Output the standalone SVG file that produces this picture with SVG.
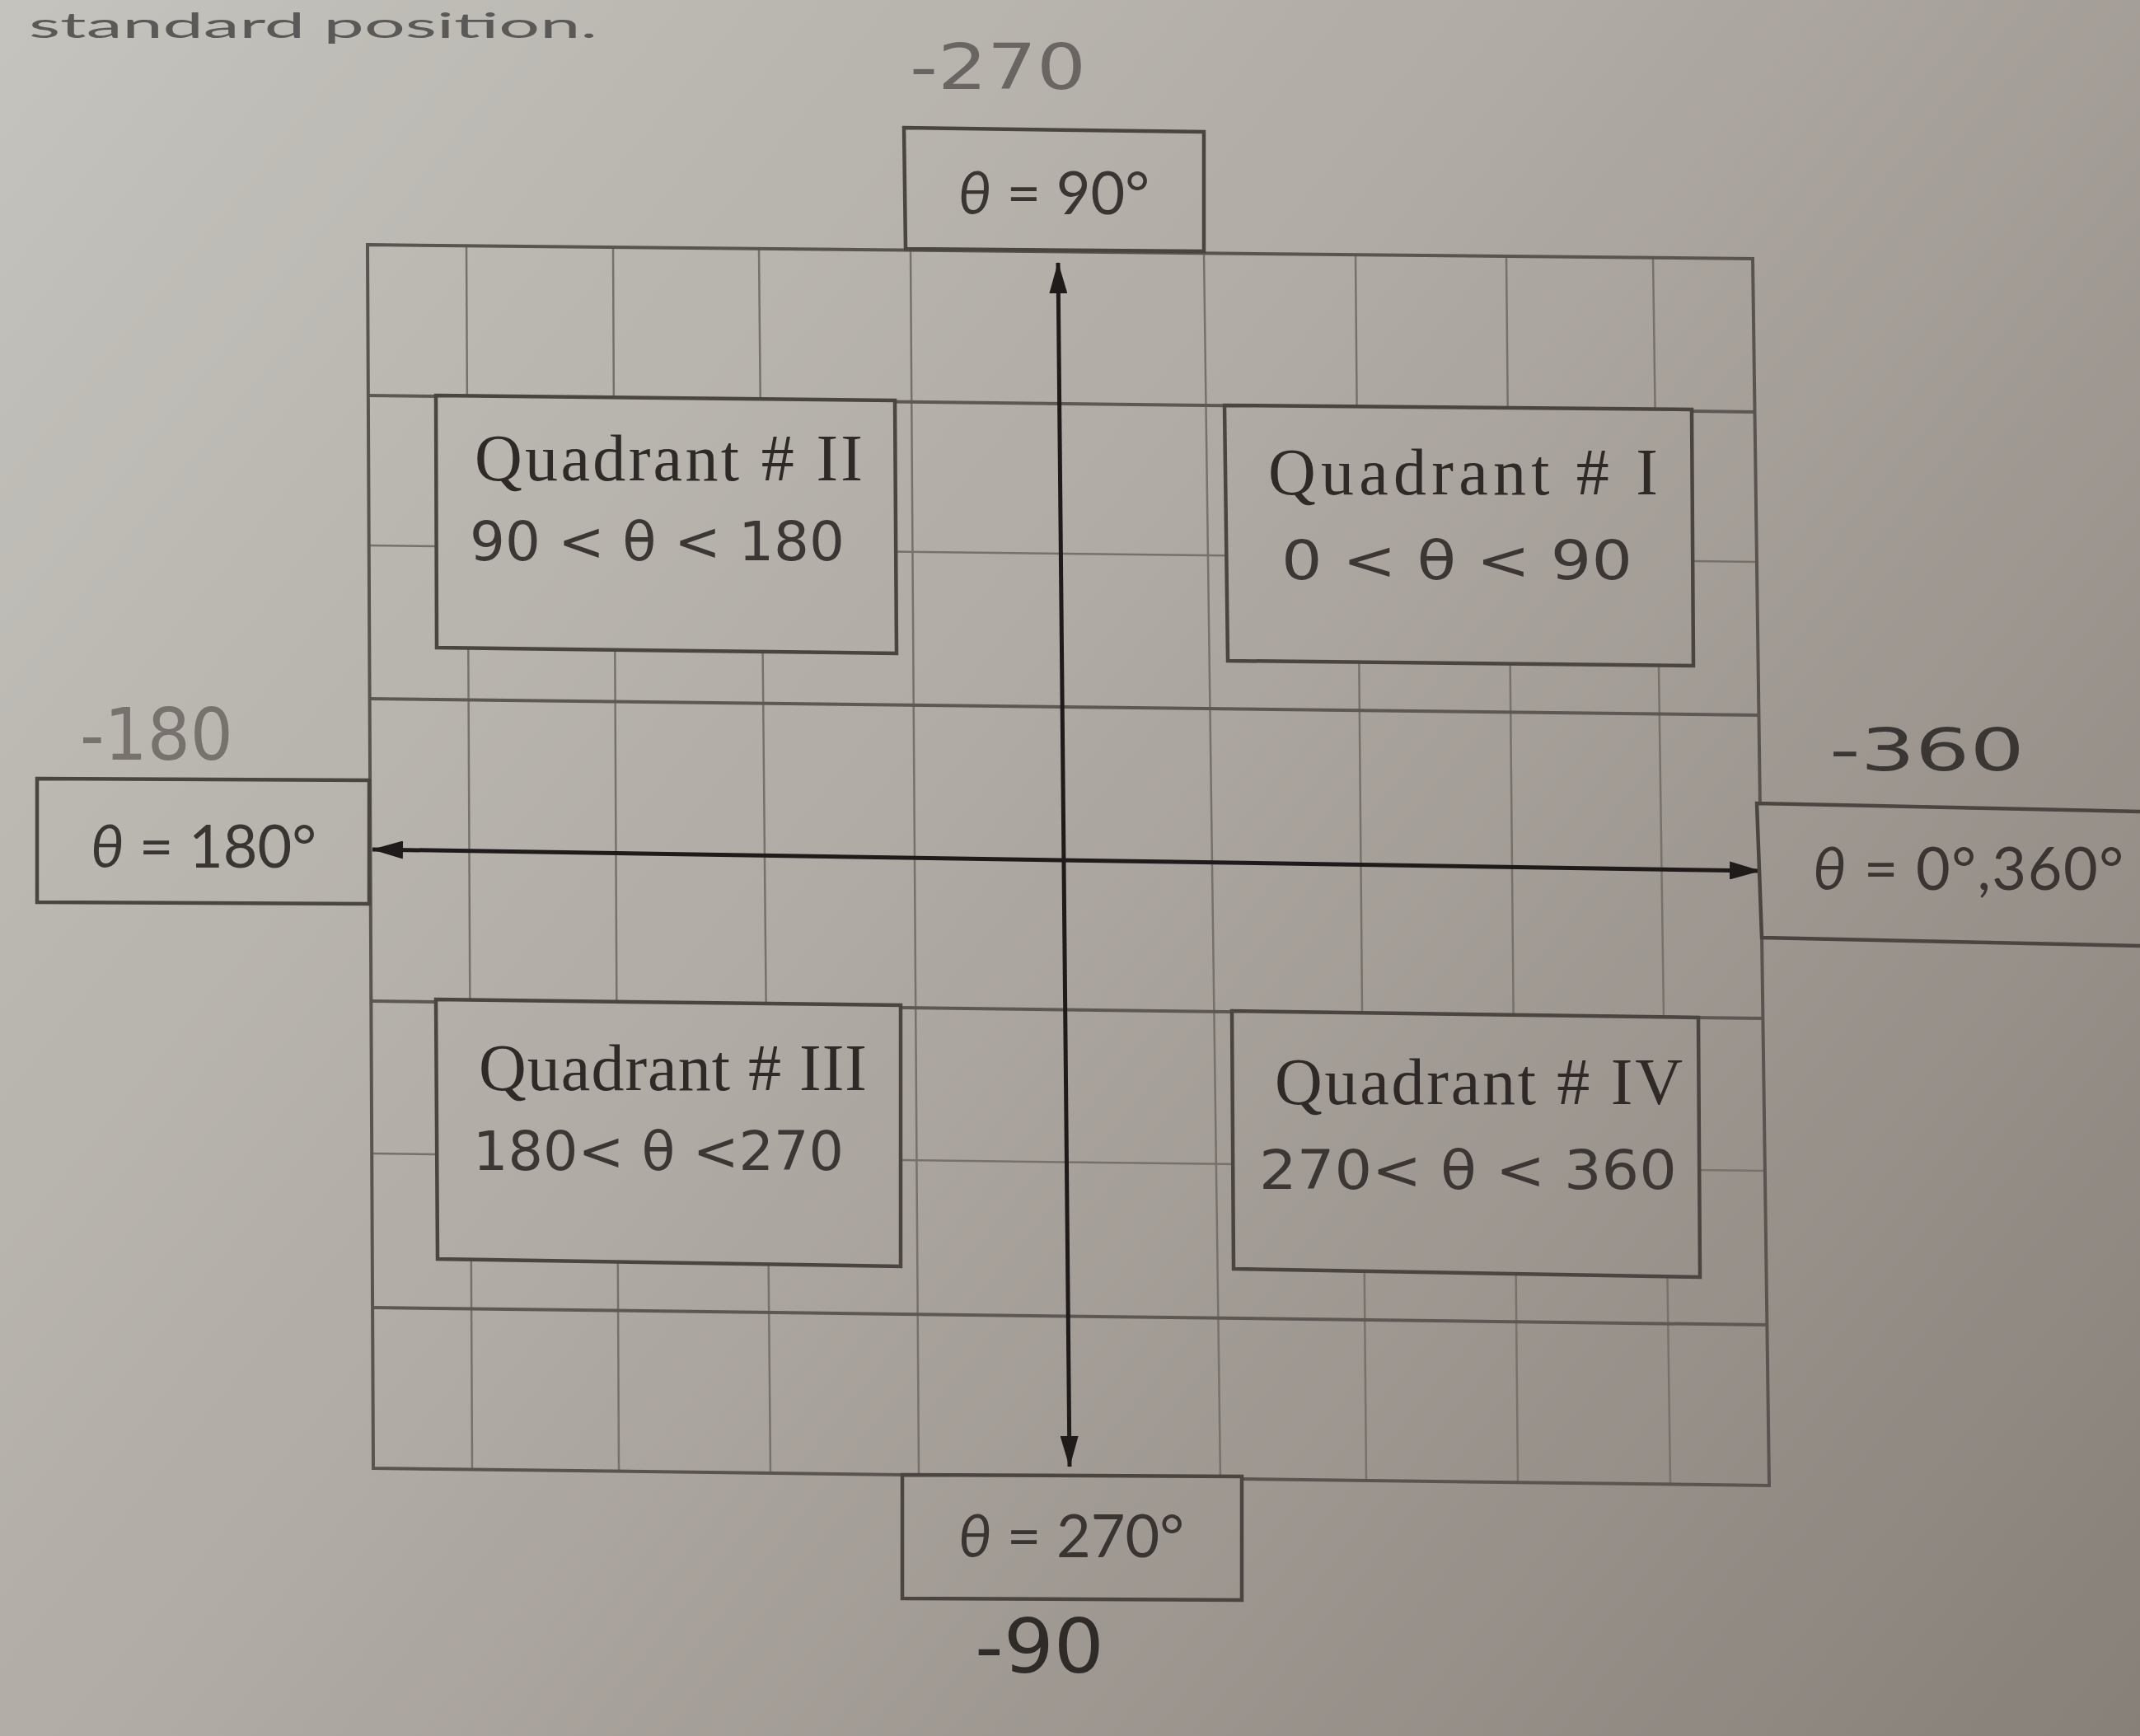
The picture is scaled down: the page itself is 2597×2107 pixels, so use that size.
<svg xmlns="http://www.w3.org/2000/svg" width="2597" height="2107" viewBox="0 0 2597 2107">
<defs>
<linearGradient id="paper" gradientUnits="userSpaceOnUse" x1="0" y1="0" x2="2597" y2="2107">
<stop offset="0" stop-color="#c4c3bd"/>
<stop offset="0.45" stop-color="#b0aaa4"/>
<stop offset="1" stop-color="#878079"/>
</linearGradient>
<marker id="arr" viewBox="0 0 38 22" refX="37" refY="11" markerWidth="38" markerHeight="22" markerUnits="userSpaceOnUse" orient="auto-start-reverse">
<path d="M0,0 L38,11 L0,22 z" fill="#1f1b1a"/>
</marker>
<style>
.box{fill:url(#paper);stroke:#4b4541;stroke-width:4.5;stroke-linejoin:miter}
.gthin{stroke:#77716c;stroke-width:2.5;fill:none}
.gmid{stroke:#5e5854;stroke-width:4;fill:none}
.gborder{stroke:#5a5450;stroke-width:4;fill:none}
.axis{stroke:#1f1b1a;stroke-width:5;fill:none}
.lbl{font-family:Lato,"Liberation Sans",sans-serif;font-size:72px;fill:#3a3532}
.quad{font-family:"Liberation Serif",serif;font-size:80px;fill:#2f2a28}
.hand{font-family:"DejaVu Sans","Liberation Sans",sans-serif;font-size:66px;fill:#3c3735}
.pen{font-family:"DejaVu Sans","Liberation Sans",sans-serif}
</style>
</defs>
<rect x="0" y="0" width="2597" height="2107" fill="url(#paper)"/>
<text x="725" y="46" text-anchor="end" font-family="Lato,'Liberation Sans',sans-serif" font-size="42" fill="#5b5957" textLength="690" lengthAdjust="spacingAndGlyphs">standard position.</text>

<g id="grid">
<line class="gthin" x1="566" y1="298" x2="573" y2="1783"/>
<line class="gthin" x1="744" y1="300" x2="751" y2="1786"/>
<line class="gthin" x1="921" y1="302" x2="935" y2="1788"/>
<line class="gthin" x1="1105" y1="304" x2="1115" y2="1790"/>
<line class="gthin" x1="1461" y1="307" x2="1481" y2="1795"/>
<line class="gthin" x1="1645" y1="309" x2="1658" y2="1797"/>
<line class="gthin" x1="1828" y1="311" x2="1842" y2="1799"/>
<line class="gthin" x1="2006" y1="313" x2="2027" y2="1801"/>
<line class="gmid" x1="447" y1="480" x2="2129" y2="500"/>
<line class="gthin" x1="447" y1="662" x2="2132" y2="682"/>
<line class="gmid" x1="448" y1="848" x2="2134" y2="868"/>
<line class="gmid" x1="450" y1="1215" x2="2139" y2="1236"/>
<line class="gthin" x1="451" y1="1400" x2="2141" y2="1421"/>
<line class="gmid" x1="452" y1="1587" x2="2144" y2="1608"/>
<polygon class="gborder" points="446,297 2127,314 2147,1803 453,1782"/>
</g>

<g id="connectors">
<line class="axis" x1="1298" y1="1780" x2="1284" y2="319" marker-start="url(#arr)" marker-end="url(#arr)"/>
<line class="axis" x1="452" y1="1031" x2="2136" y2="1057" marker-start="url(#arr)" marker-end="url(#arr)"/>
</g>

<g id="q2">
<polygon class="box" points="529,480 1086,486 1088,793 530,786"/>
<text class="quad" x="576" y="583" textLength="471" lengthAdjust="spacing">Quadrant # II</text>
<text class="hand" x="570" y="680" textLength="455" lengthAdjust="spacingAndGlyphs">90 &lt; θ &lt; 180</text>
</g>
<g id="q1">
<polygon class="box" points="1486,492 2053,497 2055,808 1490,802"/>
<text class="quad" x="1539" y="600" textLength="473" lengthAdjust="spacing">Quadrant # I</text>
<text class="hand" x="1555" y="703" textLength="426" lengthAdjust="spacingAndGlyphs">0 &lt; θ &lt; 90</text>
</g>
<g id="q3">
<polygon class="box" points="529,1213 1093,1220 1093,1537 531,1528"/>
<text class="quad" x="581" y="1323" textLength="471" lengthAdjust="spacing">Quadrant # III</text>
<text class="hand" x="574" y="1420" textLength="450" lengthAdjust="spacingAndGlyphs">180&lt; θ &lt;270</text>
</g>
<g id="q4">
<polygon class="box" points="1495,1227 2061,1235 2063,1550 1497,1540"/>
<text class="quad" x="1547" y="1340" textLength="495" lengthAdjust="spacing">Quadrant # IV</text>
<text class="hand" x="1528" y="1443" textLength="507" lengthAdjust="spacingAndGlyphs">270&lt; θ &lt; 360</text>
</g>

<g id="theta90">
<polygon class="box" points="1097,155 1461,160 1461,305 1099,302"/>
<text class="lbl" x="1279" y="260" text-anchor="middle"><tspan font-style="italic">θ</tspan> = 90°</text>
</g>
<g id="theta180">
<polygon class="box" points="45,945 448,947 448,1097 45,1095"/>
<text class="lbl" x="247" y="1053" text-anchor="middle"><tspan font-style="italic">θ</tspan> = 180°</text>
</g>
<g id="theta0">
<path class="box" d="M2597,985 L2132,975 L2138,1138 L2597,1148"/>
<text class="lbl" x="2200" y="1080" textLength="377" lengthAdjust="spacing"><tspan font-style="italic">θ</tspan> = 0°,360°</text>
</g>
<g id="theta270">
<polygon class="box" points="1095,1790 1507,1792 1507,1942 1095,1940"/>
<text class="lbl" x="1300" y="1890" text-anchor="middle"><tspan font-style="italic">θ</tspan> = 270°</text>
</g>

<g id="notes">
<text class="pen" x="1104" y="108" font-size="76" fill="#6a6562" textLength="214" lengthAdjust="spacingAndGlyphs">-270</text>
<text class="pen" x="97" y="922" font-size="88" fill="#77726d" textLength="186" lengthAdjust="spacingAndGlyphs">-180</text>
<text class="pen" x="2220" y="935" font-size="72" fill="#3a3634" textLength="237" lengthAdjust="spacingAndGlyphs">-360</text>
<text class="pen" x="1183" y="2030" font-size="90" fill="#2f2b29" textLength="157" lengthAdjust="spacingAndGlyphs">-90</text>
</g>
</svg>
